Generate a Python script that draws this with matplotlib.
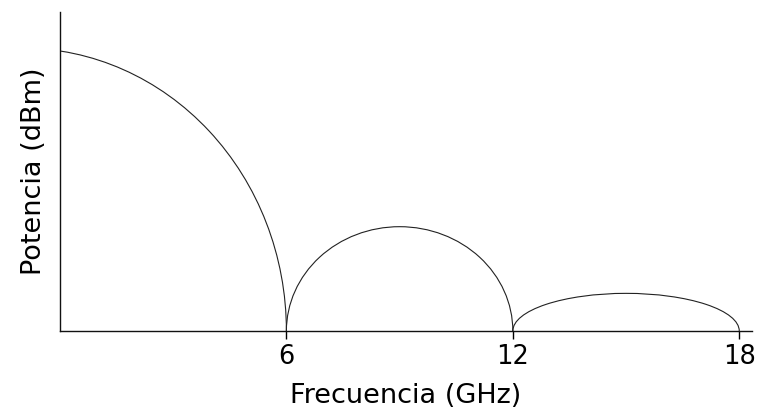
import matplotlib.pyplot as plt
from matplotlib.patches import Arc

# Spectrum lobes: centre (GHz), half-width (GHz), peak level (relative)
lobe_centers = [-1.0, 9.0, 15.0]
lobe_halfwidths = [7.0, 3.0, 3.0]
lobe_peaks = [88.7, 32.7, 11.8]

x_ticks = [6, 12, 18]
x_ticklabels = ['6', '12', '18']

fig = plt.figure(figsize=(7.61, 4.15), dpi=100)
ax = fig.add_axes([0.0788, 0.2024, 0.909, 0.7687])

for c, w, h in zip(lobe_centers, lobe_halfwidths, lobe_peaks):
    arc = Arc((c, 0), 2 * w, 2 * h, theta1=0, theta2=180,
              color='#222222', linewidth=0.8)
    ax.add_patch(arc)

ax.set_xlim(0, 18.33)
ax.set_ylim(0, 100)

ax.spines['top'].set_visible(False)
ax.spines['right'].set_visible(False)
for s in ('left', 'bottom'):
    ax.spines[s].set_linewidth(1.0)
    ax.spines[s].set_color('#111111')

ax.set_xticks(x_ticks)
ax.set_xticklabels(x_ticklabels)
ax.set_yticks([])
ax.tick_params(axis='x', direction='out', length=6, width=1.0,
               labelsize=18.5, pad=3)

ax.set_xlabel('Frecuencia (GHz)', fontsize=19.5, labelpad=10)
ax.set_ylabel('Potencia (dBm)', fontsize=19.5, labelpad=9)

plt.savefig('out.png', dpi=100)
